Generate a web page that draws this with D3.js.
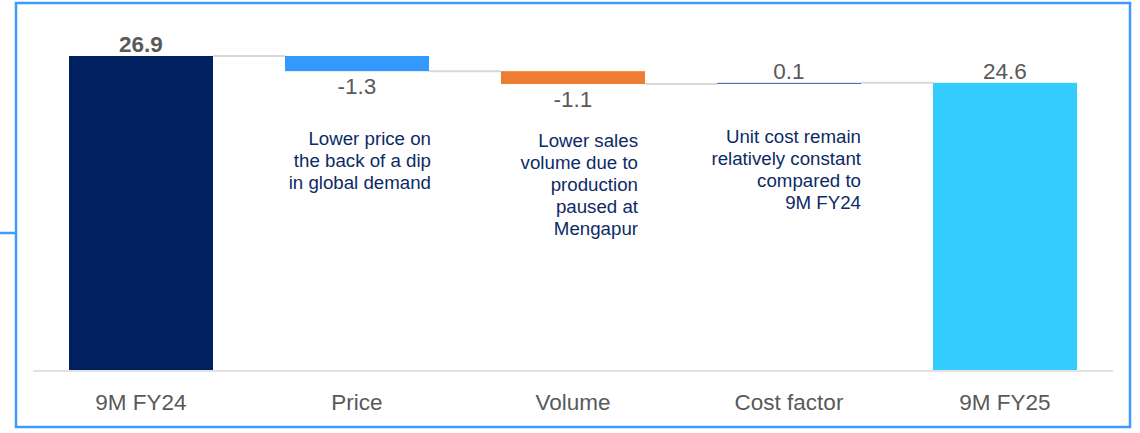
<!DOCTYPE html>
<html>
<head>
<meta charset="utf-8">
<script src="https://cdn.jsdelivr.net/npm/d3@7"></script>
<style>
  body { margin: 0; background: #fff; }
  svg { display: block; font-family: "Liberation Sans", Arial, sans-serif; }
</style>
</head>
<body>
<svg class="bridge" width="1140" height="433"></svg>
<script>
// waterfall data
const categories = ['9M FY24', 'Price', 'Volume', 'Cost factor', '9M FY25'];
const values = [26.9, -1.3, -1.1, 0.1, 24.6];
const kinds = ['total', 'delta', 'delta', 'delta', 'total'];
const valueLabels = ['26.9', '-1.3', '-1.1', '0.1', '24.6'];
const notes = [
  [],
  ['Lower price on', 'the back of a dip', 'in global demand'],
  ['Lower sales', 'volume due to', 'production', 'paused at', 'Mengapur'],
  ['Unit cost remain', 'relatively constant', 'compared to', '9M FY24'],
  []
];

const colors = ['#002060', '#3399ff', '#ed7d31', '#4472c4', '#33ccff'];

const svg = d3.select('svg.bridge');

// frame
svg.append('rect')
   .attr('x', 16).attr('y', 3)
   .attr('width', 1114).attr('height', 424)
   .style('fill', 'none')
   .style('stroke', '#3d9bff')
   .style('stroke-width', 2.5);

svg.append('line')
   .attr('x1', 0).attr('x2', 16)
   .attr('y1', 233).attr('y2', 233)
   .style('stroke', '#3d9bff')
   .style('stroke-width', 2.5);

const x = d3.scaleBand()
            .domain(categories)
            .range([33, 1113])
            .paddingInner(1/3)
            .paddingOuter(1/6);

const y = d3.scaleLinear()
            .domain([0, 26.9])
            .range([370, 56]);

// running totals
let running = 0;
const steps = categories.map((c, i) => {
  let start, end;
  if (kinds[i] == 'total') {
    start = 0; end = values[i]; running = values[i];
  } else {
    start = running; end = running + values[i]; running = end;
  }
  return {cat: c, start: start, end: end, value: values[i], kind: kinds[i], label: valueLabels[i], note: notes[i], i: i};
});

// connectors
const g = svg.append('g');
g.selectAll('line.conn')
 .data(steps.slice(0, -1))
 .enter()
 .append('line')
 .attr('class', 'conn')
 .attr('x1', d => x(d.cat) + x.bandwidth())
 .attr('x2', (d, i) => x(categories[i + 1]))
 .attr('y1', d => y(d.end))
 .attr('y2', d => y(d.end))
 .style('stroke', '#d9d9d9')
 .style('stroke-width', 2);

// axis baseline
g.append('line')
 .attr('x1', 33).attr('x2', 1113)
 .attr('y1', y(0) + 1).attr('y2', y(0) + 1)
 .style('stroke', '#d9d9d9')
 .style('stroke-width', 1.5);

// bars
g.selectAll('rect.bar')
 .data(steps)
 .enter()
 .append('rect')
 .attr('class', 'bar')
 .attr('x', d => x(d.cat))
 .attr('width', x.bandwidth())
 .attr('y', d => y(Math.max(d.start, d.end)))
 .attr('height', d => Math.max(1, Math.abs(y(d.start) - y(d.end))))
 .style('fill', d => colors[d.i]);

// value labels
g.selectAll('text.val')
 .data(steps)
 .enter()
 .append('text')
 .attr('class', 'val')
 .attr('x', d => x(d.cat) + x.bandwidth() / 2)
 .attr('y', d => d.value < 0 ? y(d.end) + 23 : y(Math.max(d.start, d.end)) - 4)
 .attr('text-anchor', 'middle')
 .style('font-size', '22.5px')
 .style('font-weight', d => d.i == 0 ? 'bold' : 'normal')
 .style('fill', '#595959')
 .text(d => d.label);

// category labels
g.selectAll('text.cat')
 .data(steps)
 .enter()
 .append('text')
 .attr('class', 'cat')
 .attr('x', d => x(d.cat) + x.bandwidth() / 2)
 .attr('y', 410)
 .attr('text-anchor', 'middle')
 .style('font-size', '22.5px')
 .style('fill', '#595959')
 .text(d => d.cat);

// notes
const noteTop = {'Price': 145, 'Volume': 147, 'Cost factor': 143};
const noteRight = {'Price': 431, 'Volume': 638, 'Cost factor': 861};

g.selectAll('text.note')
 .data(steps.filter(d => d.note.length))
 .enter()
 .append('text')
 .attr('class', 'note')
 .attr('text-anchor', 'end')
 .attr('y', d => noteTop[d.cat])
 .style('font-size', '18.7px')
 .style('fill', '#0d2a66')
 .selectAll('tspan')
 .data(d => d.note.map(t => ({t: t, cat: d.cat})))
 .enter()
 .append('tspan')
 .attr('x', d => noteRight[d.cat])
 .attr('dy', (d, i) => i == 0 ? 0 : 22)
 .text(d => d.t);
</script>
</body>
</html>
